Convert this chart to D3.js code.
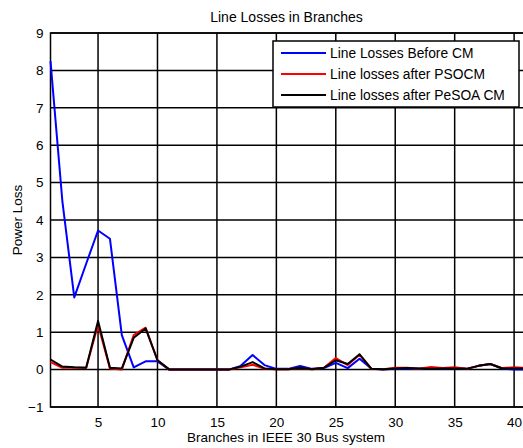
<!DOCTYPE html>
<html lang="en">
<head>
  <meta charset="UTF-8" />
  <title>Line Losses in Branches</title>
  <script src="https://cdn.jsdelivr.net/npm/d3@7/dist/d3.min.js"></script>
  <style>
    body { margin: 0; overflow: hidden; background: #fff; }
    text { font-family: "Liberation Sans", Arial, sans-serif; fill: #000; }
    .grid line { stroke: #000; stroke-width: 1.5px; }
    .data-line { fill: none; stroke-width: 2px; stroke-linejoin: round; }
  </style>
</head>
<body>
<script>
  // branch numbers 1..41
  var branches = d3.range(1, 42);

  var beforeCM = [8.25, 4.5, 1.93, 2.83, 3.72, 3.5, 0.92, 0.06, 0.22, 0.22,
    0, 0, 0, 0, 0, 0, 0.1, 0.39, 0.12, 0.02,
    0.02, 0.1, 0.02, 0.04, 0.18, 0.04, 0.29, 0.02, 0, 0.02,
    0.03, 0.02, 0.04, 0.03, 0.04, 0.02, 0.1, 0.15, 0.03, 0, 0];
  var afterPSO = [0.2, 0.05, 0.05, 0.05, 1.2, 0.03, 0, 0.92, 1.12, 0.25,
    0, 0, 0, 0, 0, 0, 0.06, 0.13, 0.02, 0.01,
    0.01, 0.04, 0.01, 0.05, 0.31, 0.12, 0.4, 0.02, 0.01, 0.05,
    0.05, 0.02, 0.07, 0.04, 0.06, 0.02, 0.1, 0.15, 0.04, 0.06, 0.05];
  var afterPeSOA = [0.27, 0.08, 0.06, 0.05, 1.3, 0.05, 0.03, 0.85, 1.1, 0.25,
    0, 0, 0, 0, 0, 0, 0.08, 0.2, 0.03, 0.01,
    0.01, 0.05, 0.01, 0.05, 0.25, 0.15, 0.41, 0.02, 0.01, 0.03,
    0.04, 0.03, 0.02, 0.03, 0.03, 0.02, 0.1, 0.15, 0.03, 0.03, 0.03];

  var xTicks = [5, 10, 15, 20, 25, 30, 35, 40];
  var yTicks = [-1, 0, 1, 2, 3, 4, 5, 6, 7, 8, 9];

  var series = [
    { name: "Line Losses Before CM", values: beforeCM, color: "#0000ff" },
    { name: "Line losses after PSOCM", values: afterPSO, color: "#ff0000" },
    { name: "Line losses after PeSOA CM", values: afterPeSOA, color: "#000000" }
  ];

  var w = 530;
  var h = 448;
  var margin = { top: 33, right: 4, bottom: 41, left: 50.5 };
  var iw = w - margin.left - margin.right;
  var ih = h - margin.top - margin.bottom;

  var svg = d3.select("body").append("svg")
    .attr("width", w)
    .attr("height", h);

  var xScale = d3.scaleLinear().domain([1, 41]).range([0, iw]);
  var yScale = d3.scaleLinear().domain([-1, 9]).range([ih, 0]);

  var g = svg.append("g")
    .attr("transform", "translate(" + margin.left + "," + margin.top + ")");

  // grid
  var grid = g.append("g").attr("class", "grid");
  grid.selectAll(".vg").data(xTicks).enter().append("line")
    .attr("x1", function(d) { return xScale(d); })
    .attr("x2", function(d) { return xScale(d); })
    .attr("y1", 0).attr("y2", ih);
  grid.selectAll(".hg").data(yTicks).enter().append("line")
    .attr("x1", 0).attr("x2", iw)
    .attr("y1", function(d) { return yScale(d); })
    .attr("y2", function(d) { return yScale(d); });

  g.append("rect")
    .attr("width", iw).attr("height", ih)
    .attr("fill", "none").attr("stroke", "#000").attr("stroke-width", 1.5);

  // axes (labels only, grid does the lines)
  var xAxis = d3.axisBottom(xScale).tickValues(xTicks).tickSize(0).tickPadding(10);
  var yAxis = d3.axisLeft(yScale).tickValues(yTicks).tickSize(0).tickPadding(7);

  var xg = g.append("g").attr("transform", "translate(0," + ih + ")").call(xAxis);
  var yg = g.append("g").call(yAxis);
  [xg, yg].forEach(function(a) {
    a.select(".domain").remove();
    a.selectAll("text").attr("font-size", 13.5).attr("font-family", "Liberation Sans, Arial, sans-serif");
  });

  var line = d3.line()
    .x(function(d, i) { return xScale(branches[i]); })
    .y(function(d) { return yScale(d); });

  g.selectAll(".data-line").data(series).enter().append("path")
    .attr("class", "data-line")
    .attr("stroke", function(d) { return d.color; })
    .attr("d", function(d) { return line(d.values); });

  // legend
  var lg = svg.append("g").attr("transform", "translate(273,41)");
  lg.append("rect")
    .attr("width", 246).attr("height", 66)
    .attr("fill", "#fff").attr("stroke", "#000").attr("stroke-width", 1.5);
  var items = lg.selectAll(".item").data(series).enter().append("g")
    .attr("transform", function(d, i) { return "translate(0," + (12 + i * 21) + ")"; });
  items.append("line")
    .attr("x1", 8).attr("x2", 53)
    .attr("stroke", function(d) { return d.color; })
    .attr("stroke-width", 2);
  items.append("text")
    .attr("x", 57).attr("dy", "0.35em")
    .attr("font-size", 13.8)
    .text(function(d) { return d.name; });

  // titles
  svg.append("text")
    .attr("x", 286.5).attr("y", 22)
    .attr("text-anchor", "middle").attr("font-size", 14)
    .text("Line Losses in Branches");
  svg.append("text")
    .attr("x", 286).attr("y", 442)
    .attr("text-anchor", "middle").attr("font-size", 13.5)
    .text("Branches in IEEE 30 Bus system");
  svg.append("text")
    .attr("transform", "translate(22," + (margin.top + ih / 2) + ") rotate(-90)")
    .attr("text-anchor", "middle").attr("font-size", 13.5)
    .text("Power Loss");
</script>
</body>
</html>
